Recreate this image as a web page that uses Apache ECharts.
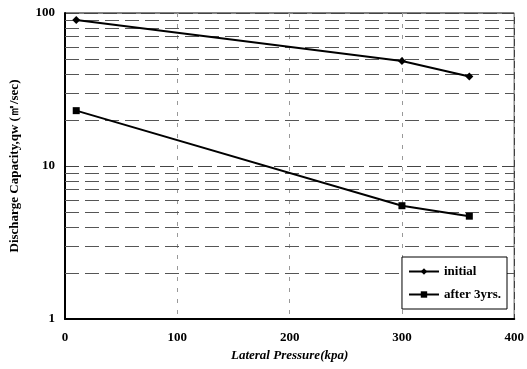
<!DOCTYPE html>
<html><head><meta charset="utf-8">
<script src="https://cdn.jsdelivr.net/npm/echarts@6/dist/echarts.min.js"></script>
<style>html,body{margin:0;padding:0;background:#fff}#c{width:527px;height:369px}</style>
</head><body><div id="c"></div>
<script>
const pressure = [10, 300, 360];
const initial = [90, 48.5, 38.5];
const after3 = [23, 5.5, 4.7];
const minorGrid = [2,3,4,5,6,7,8,9,20,30,40,50,60,70,80,90];

const font = '"Liberation Serif", "Times New Roman", serif';
const chart = echarts.init(document.getElementById('c'));
chart.setOption({
  animation: false,
  grid: {left: 58, right: 8, top: 13, bottom: 50, show: true, borderColor: '#000', borderWidth: 1},
  xAxis: {
    type: 'value', min: 0, max: 400, interval: 100,
    name: 'Lateral Pressure(kpa)', nameLocation: 'middle', nameGap: 25,
    nameTextStyle: {fontFamily: font, fontWeight: 'bold', fontStyle: 'italic', fontSize: 13, color: '#000'},
    axisLine: {lineStyle: {color: '#000', width: 2}},
    axisTick: {show: false},
    axisLabel: {fontFamily: font, fontWeight: 'bold', fontSize: 13, color: '#000', margin: 12},
    splitLine: {show: true, lineStyle: {color: '#999', type: [4, 7], width: 1}}
  },
  yAxis: {
    type: 'log', logBase: 10, min: 1, max: 100,
    name: 'Discharge Capacity,qw (㎡/sec)', nameLocation: 'middle', nameGap: 44,
    nameTextStyle: {fontFamily: font, fontWeight: 'bold', fontSize: 13, color: '#000'},
    axisLine: {show: true, lineStyle: {color: '#000', width: 2}},
    axisTick: {show: false},
    axisLabel: {fontFamily: font, fontWeight: 'bold', fontSize: 13, color: '#000', margin: 10},
    splitLine: {show: true, lineStyle: {color: '#444', type: [14, 5], width: 1}}
  },
  legend: {
    orient: 'vertical', right: 20, top: 257, itemWidth: 30, itemHeight: 8, itemGap: 10, z: 20,
    padding: [8, 6, 8, 6], borderColor: '#000', borderWidth: 1, backgroundColor: '#fff',
    textStyle: {fontFamily: font, fontWeight: 'bold', fontSize: 13, color: '#000'},
    data: ['initial', 'after 3yrs.']
  },
  series: [
    {
      name: 'initial', type: 'line', data: pressure.map((x, i) => [x, initial[i]]),
      symbol: 'diamond', symbolSize: 8, color: '#000', lineStyle: {color: '#000', width: 2},
      itemStyle: {color: '#000'}, z: 5,
      markLine: {
        silent: true, symbol: 'none', label: {show: false}, z: 1,
        lineStyle: {color: '#555', type: [14, 6], width: 1},
        data: minorGrid.map(v => ({yAxis: v}))
      }
    },
    {
      name: 'after 3yrs.', type: 'line', data: pressure.map((x, i) => [x, after3[i]]),
      symbol: 'rect', symbolSize: 7, color: '#000', lineStyle: {color: '#000', width: 2},
      itemStyle: {color: '#000'}, z: 5
    }
  ]
});
</script></body></html>
